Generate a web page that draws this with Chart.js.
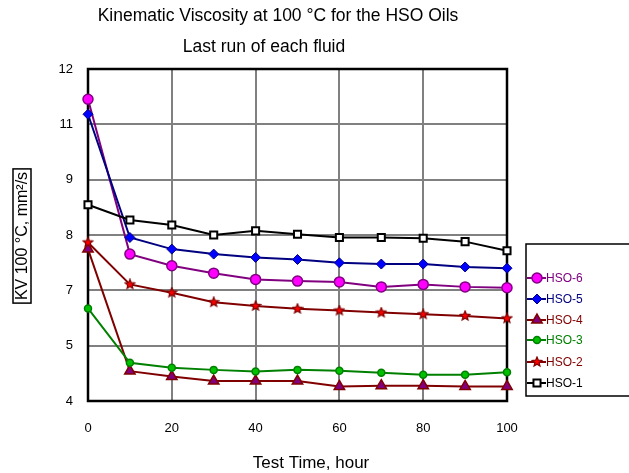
<!DOCTYPE html>
<html><head><meta charset="utf-8">
<script src="https://cdn.jsdelivr.net/npm/chart.js@4/dist/chart.umd.min.js"></script>
<style>html,body{margin:0;padding:0;background:#fff}#wrap{width:629px;height:473px;position:relative}</style>
</head><body><div id="wrap"><canvas id="c" width="629" height="473"></canvas></div>
<script>
const hours = [0, 10, 20, 30, 40, 50, 60, 70, 80, 90, 100];
const hso1 = [8.73, 8.36, 8.24, 8.00, 8.10, 8.02, 7.94, 7.94, 7.92, 7.84, 7.62];
const hso2 = [7.82, 6.81, 6.61, 6.38, 6.29, 6.22, 6.18, 6.13, 6.09, 6.05, 5.99];
const hso3 = [6.23, 4.92, 4.80, 4.75, 4.71, 4.75, 4.73, 4.68, 4.63, 4.63, 4.69];
const hso4 = [7.66, 4.72, 4.59, 4.48, 4.48, 4.48, 4.35, 4.37, 4.37, 4.35, 4.35];
const hso5 = [10.91, 7.94, 7.66, 7.54, 7.46, 7.41, 7.33, 7.30, 7.30, 7.23, 7.20];
const hso6 = [11.27, 7.54, 7.26, 7.08, 6.93, 6.89, 6.87, 6.75, 6.81, 6.75, 6.73];
const seriesNames = ['HSO-1', 'HSO-2', 'HSO-3', 'HSO-4', 'HSO-5', 'HSO-6'];
const yTickValues = [4, 4 + 4/3, 4 + 8/3, 8, 8 + 4/3, 8 + 8/3, 12];
const yTickLabels = ['4', '5', '7', '8', '9', '11', '12'];
const xTickValues = [0, 20, 40, 60, 80, 100];
const titleLines = ['Kinematic Viscosity at 100 °C for the HSO Oils', 'Last run of each fluid'];
const xTitle = 'Test Time, hour';
const yTitle = 'KV 100 °C, mm²/s';

const FONT = '"Liberation Sans", Arial, sans-serif';

function makeStar(size, fill, stroke) {
  const c = document.createElement('canvas');
  c.width = size; c.height = size;
  const g = c.getContext('2d');
  const cx = size/2, cy = size/2, R = size/2 - 1, r = R*0.45;
  g.beginPath();
  for (let i = 0; i < 10; i++) {
    const a = -Math.PI/2 + i*Math.PI/5;
    const rr = i % 2 ? r : R;
    const x = cx + rr*Math.cos(a), y = cy + rr*Math.sin(a);
    i ? g.lineTo(x, y) : g.moveTo(x, y);
  }
  g.closePath();
  g.fillStyle = fill; g.fill();
  g.lineWidth = 1.2; g.strokeStyle = stroke; g.stroke();
  return c;
}
const starImg = makeStar(12, '#FF0000', '#800000');

const styles = [
  {line:'#000000', pt:'rect', bg:'#FFFFFF', bd:'#000000', r:5, bw:2, text:'#000000'},
  {line:'#800000', pt:starImg, bg:'#FF0000', bd:'#800000', r:6, bw:1, text:'#800000'},
  {line:'#008000', pt:'circle', bg:'#00C000', bd:'#008000', r:3.5, bw:1.5, text:'#008000'},
  {line:'#800000', pt:'triangle', bg:'#800080', bd:'#800000', r:6, bw:1.5, text:'#800000'},
  {line:'#000080', pt:'rectRot', bg:'#0000FF', bd:'#000080', r:5, bw:1, text:'#000080'},
  {line:'#800080', pt:'circle', bg:'#FF00FF', bd:'#800080', r:5, bw:1.5, text:'#800080'}
];
const allData = [hso1, hso2, hso3, hso4, hso5, hso6];

const datasets = allData.map((arr, i) => ({
  label: seriesNames[i],
  data: hours.map((h, j) => ({x: h, y: arr[j]})),
  borderColor: styles[i].line,
  borderWidth: 2,
  pointStyle: styles[i].pt,
  pointRadius: styles[i].r,
  pointBackgroundColor: styles[i].bg,
  pointBorderColor: styles[i].bd,
  pointBorderWidth: styles[i].bw,
  tension: 0,
  clip: false
}));

const decor = {
  id: 'decor',
  beforeDatasetsDraw(chart) {
    const {ctx, chartArea: a} = chart;
    ctx.save();
    ctx.strokeStyle = '#000';
    ctx.lineWidth = 2.5;
    ctx.strokeRect(a.left, a.top, a.right - a.left, a.bottom - a.top);
    ctx.restore();
  },
  afterDraw(chart) {
    const {ctx} = chart;
    ctx.save();
    ctx.fillStyle = '#000';
    ctx.textBaseline = 'middle';
    ctx.textAlign = 'center';
    ctx.font = '17.5px ' + FONT;
    ctx.fillText(titleLines[0], 278, 16);
    ctx.fillText(titleLines[1], 264, 47);
    ctx.font = '17px ' + FONT;
    ctx.fillText(xTitle, 311, 463);
    // y title, rotated, boxed
    ctx.translate(22, 236);
    ctx.rotate(-Math.PI/2);
    ctx.font = '16px ' + FONT;
    const w = ctx.measureText(yTitle).width;
    ctx.fillText(yTitle, 0, 1);
    ctx.lineWidth = 1.5;
    ctx.strokeRect(-w/2 - 3, -9, w + 6, 18);
    ctx.restore();

    // legend
    ctx.save();
    ctx.strokeStyle = '#000';
    ctx.lineWidth = 1.5;
    ctx.strokeRect(526, 244, 120, 152);
    const ys = [383, 362, 340, 320, 299, 278];
    ctx.font = '12px ' + FONT;
    ctx.textBaseline = 'middle';
    ctx.textAlign = 'left';
    for (let i = 0; i < 6; i++) {
      const st = styles[i], y = ys[i];
      ctx.strokeStyle = st.line; ctx.lineWidth = 2;
      ctx.beginPath(); ctx.moveTo(527, y); ctx.lineTo(546, y); ctx.stroke();
      ctx.fillStyle = st.bg; ctx.strokeStyle = st.bd; ctx.lineWidth = st.bw;
      Chart.helpers.drawPoint(ctx, {pointStyle: st.pt, radius: st.r, borderWidth: st.bw, rotation: 0}, 537, y);
      ctx.fillStyle = st.text;
      ctx.fillText(seriesNames[i], 546, y + 0.5);
    }
    ctx.restore();
  }
};

new Chart(document.getElementById('c'), {
  type: 'line',
  data: {datasets},
  options: {
    responsive: false,
    animation: false,
    devicePixelRatio: 1,
    layout: {padding: {left: 0, top: 69, right: 122, bottom: 0}},
    plugins: {legend: {display: false}, title: {display: false}, tooltip: {enabled: false}},
    scales: {
      x: {
        type: 'linear', min: 0, max: 100,
        afterFit(s) { s.height = 72; },
        afterBuildTicks(s) { s.ticks = xTickValues.map(v => ({value: v})); },
        grid: {color: '#808080', lineWidth: 2, tickLength: 0, drawTicks: false},
        border: {display: false},
        ticks: {padding: 20, color: '#000', font: {family: FONT, size: 13}, maxRotation: 0,
                callback: v => String(v)}
      },
      y: {
        type: 'linear', min: 4, max: 12,
        afterFit(s) { s.width = 88; },
        afterBuildTicks(s) { s.ticks = yTickValues.map(v => ({value: v})); },
        grid: {color: '#808080', lineWidth: 2, tickLength: 0, drawTicks: false},
        border: {display: false},
        ticks: {padding: 15, color: '#000', font: {family: FONT, size: 13},
                callback: (v, i) => yTickLabels[i]}
      }
    }
  },
  plugins: [decor]
});
</script></body></html>
